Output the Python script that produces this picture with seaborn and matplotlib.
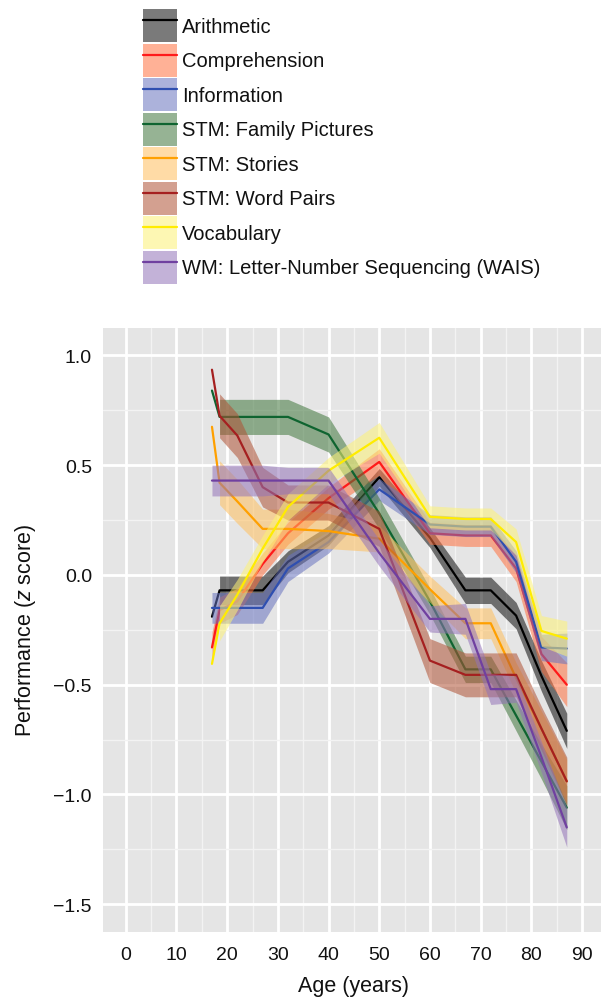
import matplotlib
matplotlib.use("Agg")
import matplotlib.pyplot as plt
import matplotlib.font_manager as fm
import seaborn as sns
import numpy as np
import pandas as pd
from matplotlib.patches import Patch
from matplotlib.lines import Line2D
from matplotlib.legend_handler import HandlerTuple
from matplotlib.ticker import MultipleLocator

# age bins (years)
ages = [17, 18.5, 22, 27, 32, 40, 50, 60, 67, 72, 77, 82, 87]

tasks = ["Arithmetic", "Comprehension", "Information", "STM: Family Pictures",
         "STM: Stories", "STM: Word Pairs", "Vocabulary",
         "WM: Letter-Number Sequencing (WAIS)"]

# mean z scores per task
arithmetic = [-0.19, -0.07, -0.07, -0.07, 0.06, 0.18, 0.445, 0.17, -0.07, -0.07, -0.185, -0.46, -0.71]
comprehension = [-0.33, -0.16, -0.12, 0.05, 0.19, 0.35, 0.515, 0.19, 0.18, 0.18, 0.03, -0.36, -0.50]
information = [-0.15, -0.15, -0.15, -0.15, 0.03, 0.15, 0.39, 0.23, 0.22, 0.22, 0.06, -0.33, -0.335]
family_pictures = [0.84, 0.72, 0.72, 0.72, 0.72, 0.64, 0.28, -0.12, -0.43, -0.43, -0.64, -0.85, -1.06]
stories = [0.675, 0.42, 0.335, 0.21, 0.21, 0.20, 0.165, -0.065, -0.22, -0.22, -0.47, -0.70, -0.94]
word_pairs = [0.935, 0.725, 0.635, 0.40, 0.33, 0.33, 0.21, -0.39, -0.455, -0.455, -0.455, -0.70, -0.94]
vocabulary = [-0.405, -0.22, -0.09, 0.12, 0.31, 0.475, 0.625, 0.265, 0.255, 0.255, 0.15, -0.255, -0.29]
wm_lns = [0.43, 0.43, 0.43, 0.43, 0.43, 0.43, 0.10, -0.20, -0.20, -0.52, -0.52, -0.83, -1.15]

# half widths of the shaded bands (nan = no band there)
arithmetic_se = [np.nan, 0.065, 0.065, 0.065, 0.05, 0.045, 0.04, 0.045, 0.06, 0.06, 0.06, 0.07, 0.08]
comprehension_se = [0.07, 0.06, 0.06, 0.05, 0.05, 0.05, 0.06, 0.05, 0.05, 0.05, 0.06, 0.08, 0.10]
information_se = [0.07, 0.07, 0.07, 0.07, 0.06, 0.05, 0.05, 0.045, 0.045, 0.045, 0.05, 0.06, 0.07]
family_pictures_se = [np.nan, 0.08, 0.08, 0.08, 0.08, 0.08, 0.07, 0.06, 0.06, 0.06, 0.07, 0.08, 0.10]
stories_se = [np.nan, 0.10, 0.10, 0.09, 0.09, 0.08, 0.06, 0.06, 0.07, 0.07, 0.07, 0.08, 0.10]
word_pairs_se = [np.nan, 0.10, 0.10, 0.09, 0.08, 0.08, 0.08, 0.10, 0.10, 0.10, 0.10, 0.10, 0.11]
vocabulary_se = [np.nan, 0.08, 0.07, 0.06, 0.06, 0.06, 0.07, 0.05, 0.05, 0.05, 0.06, 0.07, 0.08]
wm_lns_se = [0.07, 0.07, 0.07, 0.07, 0.06, 0.06, 0.06, 0.06, 0.07, 0.07, 0.06, 0.07, 0.09]

means = [arithmetic, comprehension, information, family_pictures, stories,
         word_pairs, vocabulary, wm_lns]
ses = [arithmetic_se, comprehension_se, information_se, family_pictures_se,
       stories_se, word_pairs_se, vocabulary_se, wm_lns_se]

line_colors = ["#000000", "#ff1a1a", "#2f4fb0", "#0f6430", "#ffa000",
               "#a52020", "#ffec00", "#7040a0"]
fill_colors = ["#0d0d0d", "#ff7140", "#6873bf", "#40763c", "#ffbf5d",
               "#b05235", "#fdf276", "#9373b8"]

rows = []
for t, m, s in zip(tasks, means, ses):
    for a, v, e in zip(ages, m, s):
        rows.append({"task": t, "age": a, "z": v, "lo": v - e, "hi": v + e})
df = pd.DataFrame(rows)

sns.set_theme(style="darkgrid", rc={
    "axes.facecolor": "#e5e5e5",
    "grid.color": "white",
    "axes.edgecolor": "#e5e5e5",
    "axes.labelcolor": "#111111",
    "text.color": "#111111",
})

# condensed look if the narrow face is there
font_names = {f.name for f in fm.fontManager.ttflist}
if "Liberation Sans Narrow" in font_names:
    fam = "Liberation Sans Narrow"
    tick_fs, lab_fs, leg_fs = 16.5, 18.5, 17.5
else:
    fam = "Liberation Sans"
    tick_fs, lab_fs, leg_fs = 14, 15.5, 14.5
plt.rcParams["font.family"] = [fam, "DejaVu Sans"]
plt.rcParams["mathtext.fontset"] = "custom"
plt.rcParams["mathtext.rm"] = fam
plt.rcParams["mathtext.it"] = fam + ":italic"

fig = plt.figure(figsize=(6.01, 10.04), dpi=100)
ax = fig.add_axes([103 / 601, 1 - 932.7 / 1004, (604.8 - 103) / 601, (932.7 - 329) / 1004])

for i, t in enumerate(tasks):
    sub = df[df["task"] == t]
    ax.fill_between(sub["age"], sub["lo"], sub["hi"], color=fill_colors[i],
                    alpha=0.55, linewidth=0, zorder=3 + 2 * i)
    sns.lineplot(data=sub, x="age", y="z", color=line_colors[i], lw=1.6,
                 ax=ax, legend=False, zorder=4 + 2 * i)

ax.set_xlim(-4.5, 94.5)
ax.set_ylim(-1.625, 1.125)
ax.set_xticks(range(0, 91, 10))
ax.set_yticks([-1.5, -1.0, -0.5, 0.0, 0.5, 1.0])
ax.set_yticklabels(["\u22121.5", "\u22121.0", "\u22120.5", "0.0", "0.5", "1.0"])
ax.xaxis.set_minor_locator(MultipleLocator(5))
ax.yaxis.set_minor_locator(MultipleLocator(0.25))
ax.grid(which="major", color="white", lw=2.0)
ax.grid(which="minor", color="#f3f3f3", lw=1.0)
ax.set_axisbelow(True)
for sp in ax.spines.values():
    sp.set_visible(False)
ax.tick_params(which="major", length=5, width=1.6, color="#7f7f7f",
               labelsize=tick_fs, labelcolor="#111111", pad=3)
ax.tick_params(axis="x", pad=5)
ax.tick_params(which="minor", length=0)
ax.set_xlabel("Age (years)", fontsize=lab_fs, labelpad=9)
ax.set_ylabel("Performance ($z$ score)", fontsize=lab_fs, labelpad=11)

handles = []
for i in range(len(tasks)):
    p = Patch(facecolor=fill_colors[i], alpha=0.55, edgecolor="none")
    l = Line2D([], [], color=line_colors[i], lw=1.6)
    handles.append((p, l))
fs_px = leg_fs * 100 / 72
hh = (33 / fs_px - 0.245) / 0.65
fig.legend(handles=handles, labels=tasks,
           handler_map={tuple: HandlerTuple(ndivide=1, pad=0)},
           loc="upper left", bbox_to_anchor=(143 / 601, 1 - 10 / 1004),
           frameon=False, borderpad=0, borderaxespad=0, fontsize=leg_fs,
           handlelength=34 / fs_px, handleheight=hh, labelspacing=1.5 / fs_px,
           handletextpad=5 / fs_px)

fig.savefig("out.png", dpi=100)
